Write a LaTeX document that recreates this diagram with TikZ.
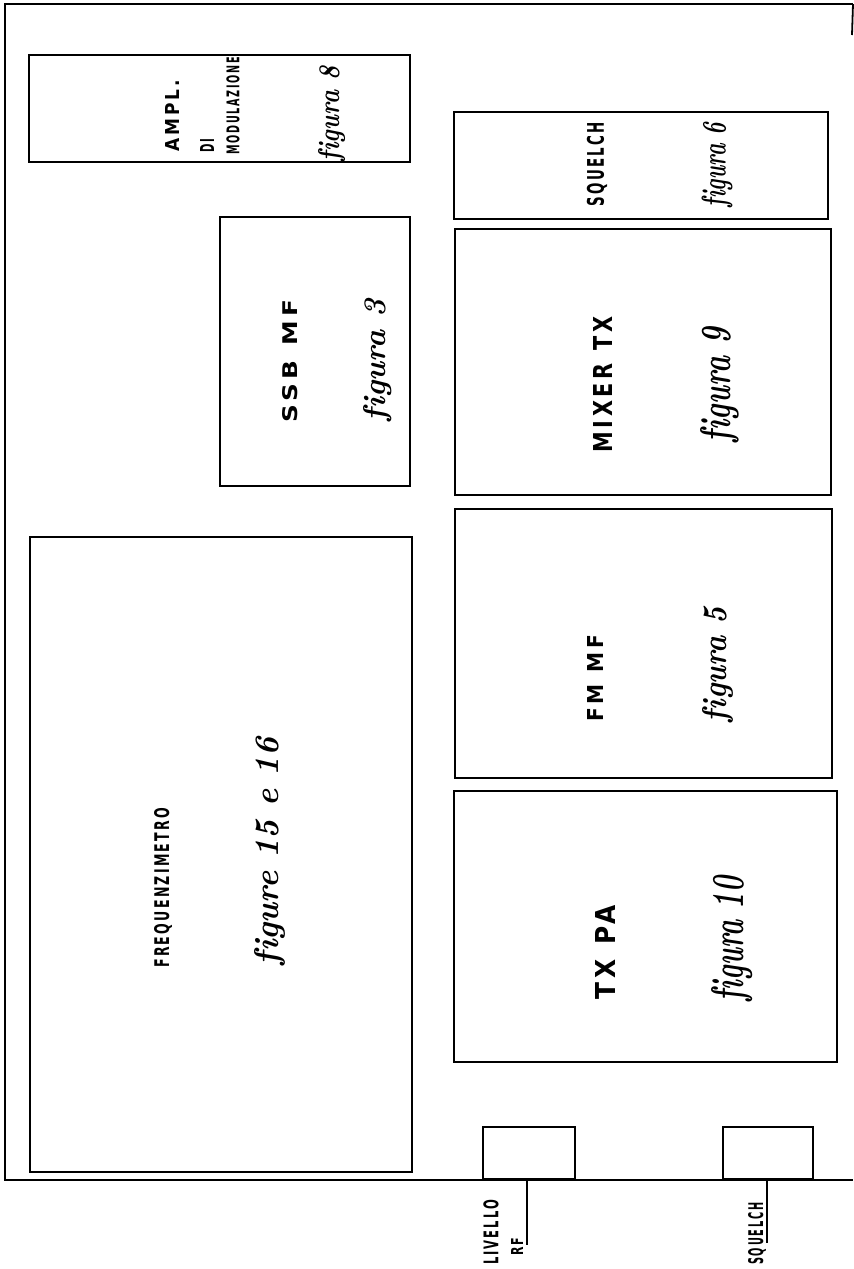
\documentclass[tikz,border=0pt]{standalone}
\usepackage{fontspec}
\usepackage{graphicx}
\newfontfamily\capsfont{DejaVu Sans}[LetterSpace=18]
\newcommand{\capstxt}[3]{\resizebox{#1pt}{#2pt}{\capsfont\bfseries #3}}
\newcommand{\figtxt}[3]{\resizebox{#1pt}{#2pt}{\bfseries\itshape #3}}
\newcommand{\fipart}{f\kern0.3pt i}
\newcommand{\wgap}{\hspace{0.6em}}
\tikzset{
  box/.style={draw, line width=1.7pt, inner sep=0pt, rectangle},
  frameline/.style={line width=1.8pt},
  lbl/.style={rotate=90, inner sep=0pt, anchor=west},
}
\begin{document}
\begin{tikzpicture}[x=1pt,y=-1pt]
\useasboundingbox (0,0) rectangle (854,1269);
% outer frame
\coordinate (tl) at (5,4);
\coordinate (tr) at (853,4);
\coordinate (bl) at (5,1180);
\coordinate (br) at (853,1180);
\coordinate (rt) at (852,35);
\draw[frameline] (tr) -- (tl) -- (bl) -- (br);
\draw[frameline] (tr) -- (rt);
% boxes
\node[box, minimum width=381pt, minimum height=107pt] (ampl) at (219.5,108.5) {};
\node[box, minimum width=374pt, minimum height=107pt] (sq) at (641,165.5) {};
\node[box, minimum width=376pt, minimum height=266pt] (mixer) at (643,362) {};
\node[box, minimum width=377pt, minimum height=269pt] (fmmf) at (643.5,643.5) {};
\node[box, minimum width=383pt, minimum height=271pt] (txpa) at (645.5,926.5) {};
\node[box, minimum width=190pt, minimum height=269pt] (ssb) at (315,351.5) {};
\node[box, minimum width=382pt, minimum height=635pt] (freq) at (221,854.5) {};
\node[box, minimum width=92pt, minimum height=52pt] (livbox) at (529,1153) {};
\node[box, minimum width=90pt, minimum height=52pt] (sqbox) at (768,1153) {};
% knob shafts
\coordinate (livend) at (527,1245);
\coordinate (sqend) at (767,1243);
\draw[frameline] (livbox.south -| livend) -- (livend);
\draw[frameline] (sqbox.south -| sqend) -- (sqend);
% labels
\node[lbl] (t1a) at (172,152) {\capstxt{72}{14}{AMPL.}};
\node[lbl] (t1b) at (207,153) {\capstxt{14}{14}{DI}};
\node[lbl] (t1c) at (233,155) {\capstxt{98}{13}{MODULAZIONE}};
\node[lbl] (f1) at (332,162) {\figtxt{95}{21}{\fipart gura 8}};
\node[lbl] (t2) at (597,207) {\capstxt{85}{17}{SQUELCH}};
\node[lbl] (f2) at (717,208) {\figtxt{85}{24}{\fipart gura 6}};
\node[lbl] (t3) at (290,423) {\capstxt{123}{15}{SSB\wgap MF}};
\node[lbl] (f3) at (378,422) {\figtxt{122}{22}{\fipart gura 3}};
\node[lbl] (t4) at (603,453) {\capstxt{136}{19}{MIXER\wgap TX}};
\node[lbl] (f4) at (720,443) {\figtxt{115}{30}{\fipart gura 9}};
\node[lbl] (t5) at (595,722) {\capstxt{87}{16}{FM\wgap MF}};
\node[lbl] (f5) at (718,723) {\figtxt{116}{24}{\fipart gura 5}};
\node[lbl] (t6) at (605,1000) {\capstxt{95}{20}{TX\wgap PA}};
\node[lbl] (f6) at (732,1002) {\figtxt{125}{32}{\fipart gura 10}};
\node[lbl] (t7) at (163,968) {\capstxt{160}{15}{FREQUENZIMETRO}};
\node[lbl] (f7) at (270,966) {\figtxt{228}{24}{\fipart gure 15 e 16}};
\node[lbl] (t8) at (491,1265) {\capstxt{65}{15}{LIVELLO}};
\node[lbl] (t8b) at (517,1256) {\capstxt{18}{12}{RF}};
\node[lbl] (t9) at (757,1265) {\capstxt{62}{15}{SQUELCH}};
\end{tikzpicture}
\end{document}
